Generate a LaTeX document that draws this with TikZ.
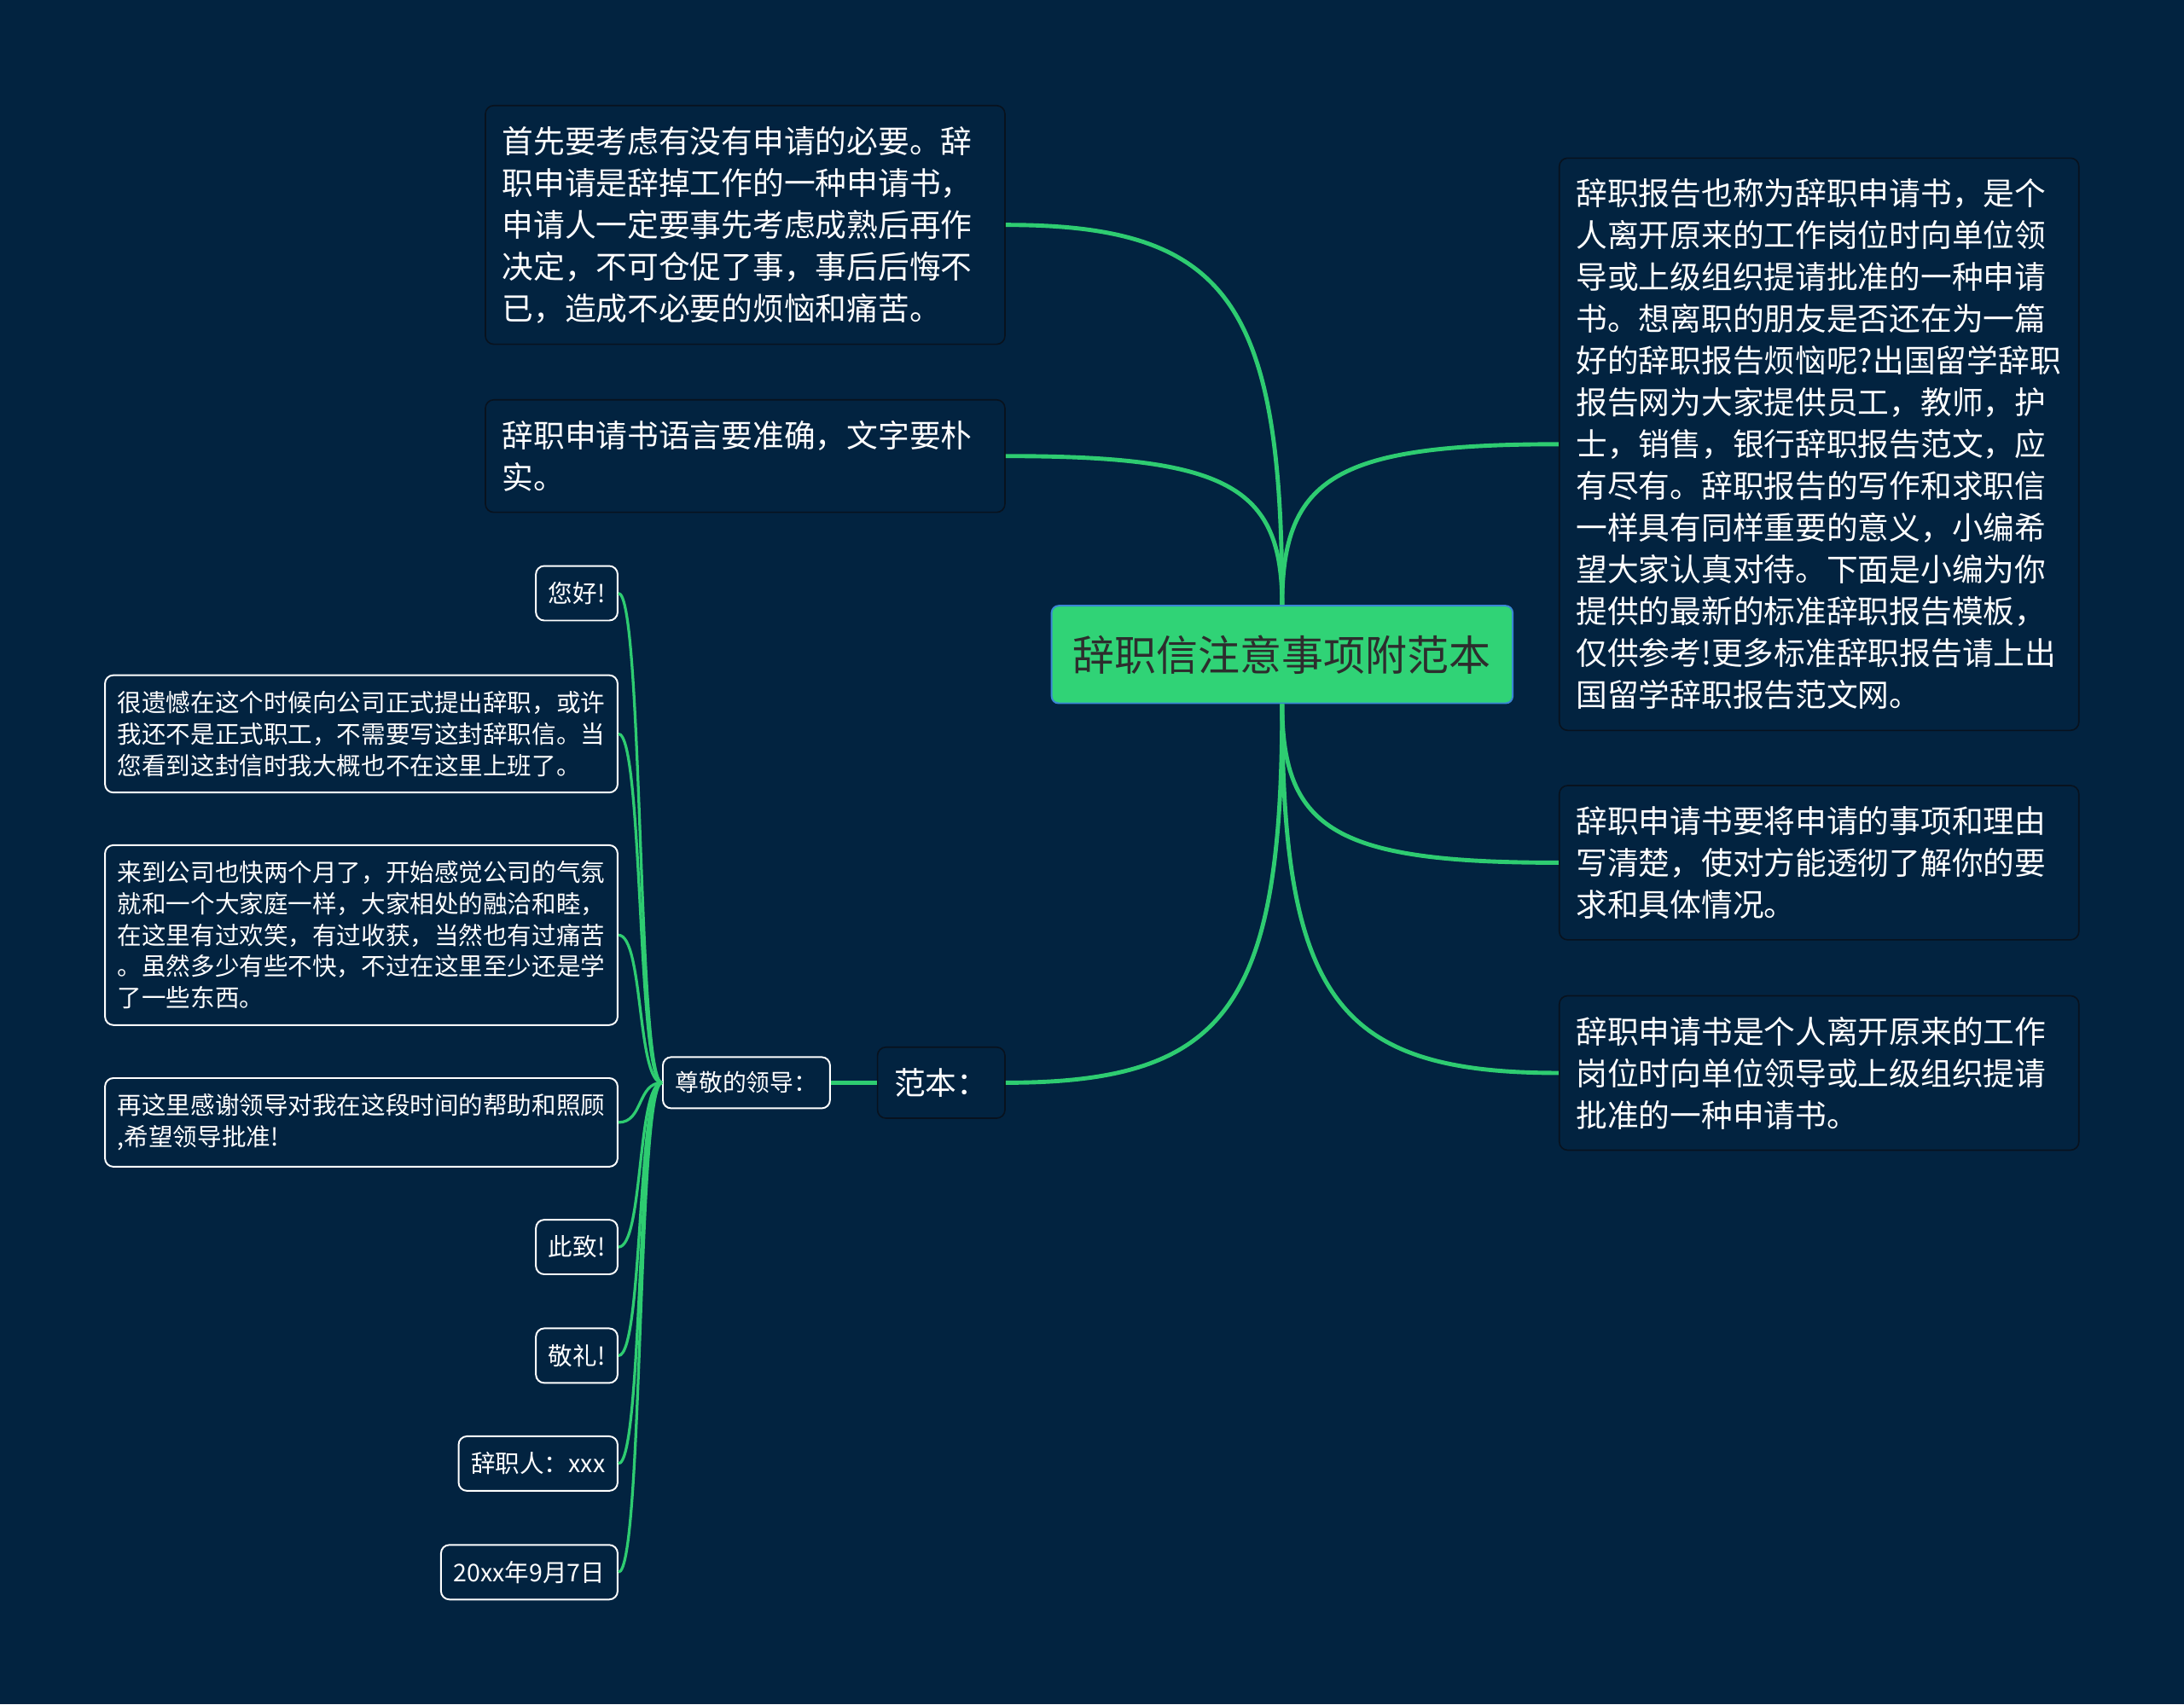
\documentclass[tikz,border=0pt]{standalone}
\usepackage{fontspec}
\setmainfont{Noto Sans CJK SC}
\usepackage{xcolor}
\usepackage{tikz}
\usetikzlibrary{positioning, calc}

\definecolor{bgnavy}{HTML}{022340}
\definecolor{linkgreen}{HTML}{2ECC71}
\definecolor{rootgreen}{HTML}{30D376}
\definecolor{rootblue}{HTML}{3A86D4}
\definecolor{topicline}{HTML}{08121E}
\definecolor{roottext}{HTML}{2D2D2D}

\begin{document}
\begin{tikzpicture}[x=1pt, y=-1pt,
  root/.style={draw=rootblue, line width=1.2pt, fill=rootgreen, rounded corners=5pt, text=roottext, minimum width=331pt, minimum height=70pt, font=\fontsize{30}{36}\selectfont},
  topic/.style={draw=topicline, line width=1pt, fill=bgnavy, rounded corners=6pt, text=white, align=left, inner xsep=12pt, inner ysep=15pt, font=\fontsize{22.5}{30}\selectfont},
  note/.style={topic, text width=349pt},
  leaf/.style={draw=white, line width=1.2pt, fill=bgnavy, rounded corners=6pt, text=white, align=left, inner xsep=9pt, inner ysep=11.5pt, font=\fontsize{17.5}{22.5}\selectfont},
  branch/.style={draw=linkgreen, line width=3pt},
  twig/.style={draw=linkgreen, line width=2pt},
  elbow/.style={to path={.. controls ($(\tikztostart)!0.8!(\tikztostart |- \tikztotarget)$) and ($(\tikztotarget)!0.8!(\tikztostart |- \tikztotarget)$) .. (\tikztotarget)}}
]
  \useasboundingbox (0,0) rectangle (1568,1224);
  \fill[bgnavy] (0,0) rectangle (1568,1224);

  \node[root] (root) at (920.5,470) {辞职信注意事项附范本};

  % upper left
  \node[note, anchor=east] (shenqing) at (722,161.5) {首先要考虑有没有申请的必要。辞\\职申请是辞掉工作的一种申请书，\\申请人一定要事先考虑成熟后再作\\决定，不可仓促了事，事后后悔不\\已，造成不必要的烦恼和痛苦。};
  \node[note, anchor=east] (yuyan) at (722,327.5) {辞职申请书语言要准确，文字要朴\\实。};

  % right side
  \node[note, anchor=west] (baogao) at (1119,319) {辞职报告也称为辞职申请书，是个\\人离开原来的工作岗位时向单位领\\导或上级组织提请批准的一种申请\\书。想离职的朋友是否还在为一篇\\好的辞职报告烦恼呢?出国留学辞职\\报告网为大家提供员工，教师，护\\士，销售，银行辞职报告范文，应\\有尽有。辞职报告的写作和求职信\\一样具有同样重要的意义，小编希\\望大家认真对待。下面是小编为你\\提供的最新的标准辞职报告模板，\\仅供参考!更多标准辞职报告请上出\\国留学辞职报告范文网。};
  \node[note, anchor=west] (shixiang) at (1119,619.5) {辞职申请书要将申请的事项和理由\\写清楚，使对方能透彻了解你的要\\求和具体情况。};
  \node[note, anchor=west] (dingyi) at (1119,770.5) {辞职申请书是个人离开原来的工作\\岗位时向单位领导或上级组织提请\\批准的一种申请书。};

  % sample letter
  \node[topic, anchor=east, minimum height=51pt] (fanben) at (722,777.5) {范本：};
  \node[leaf, left=33pt of fanben, font=\fontsize{17}{22}\selectfont, inner ysep=10.5pt] (zunjing) {尊敬的领导：};

  \node[leaf, anchor=east] (nihao) at (444,426) {您好!};
  \node[leaf, anchor=east] (yihan) at (444,527) {很遗憾在这个时候向公司正式提出辞职，或许\\我还不是正式职工，不需要写这封辞职信。当\\您看到这封信时我大概也不在这里上班了。};
  \node[leaf, anchor=east] (gongsi) at (444,671.5) {来到公司也快两个月了，开始感觉公司的气氛\\就和一个大家庭一样，大家相处的融洽和睦，\\在这里有过欢笑，有过收获，当然也有过痛苦\\。虽然多少有些不快，不过在这里至少还是学\\了一些东西。};
  \node[leaf, anchor=east] (ganxie) at (444,806) {再这里感谢领导对我在这段时间的帮助和照顾\\,希望领导批准!};
  \node[leaf, anchor=east] (cizhi) at (444,895.5) {此致!};
  \node[leaf, anchor=east] (jingli) at (444,973.5) {敬礼!};
  \node[leaf, anchor=east] (cizhiren) at (444,1051) {辞职人：xxx};
  \node[leaf, anchor=east] (riqi) at (444,1129) {20xx年9月7日};

  \draw[branch] (root.north) to[elbow] (shenqing.east);
  \draw[branch] (root.north) to[elbow] (yuyan.east);
  \draw[branch] (root.north) to[elbow] (baogao.west);
  \draw[branch] (root.south) to[elbow] (shixiang.west);
  \draw[branch] (root.south) to[elbow] (dingyi.west);
  \draw[branch] (root.south) to[elbow] (fanben.east);
  \draw[branch] (fanben) -- (zunjing);

  \draw[twig] (zunjing.west) .. controls +(-18,0) and +(18,0) .. (nihao.east);
  \draw[twig] (zunjing.west) .. controls +(-18,0) and +(18,0) .. (yihan.east);
  \draw[twig] (zunjing.west) .. controls +(-18,0) and +(18,0) .. (gongsi.east);
  \draw[twig] (zunjing.west) .. controls +(-18,0) and +(18,0) .. (ganxie.east);
  \draw[twig] (zunjing.west) .. controls +(-18,0) and +(18,0) .. (cizhi.east);
  \draw[twig] (zunjing.west) .. controls +(-18,0) and +(18,0) .. (jingli.east);
  \draw[twig] (zunjing.west) .. controls +(-18,0) and +(18,0) .. (cizhiren.east);
  \draw[twig] (zunjing.west) .. controls +(-18,0) and +(18,0) .. (riqi.east);
\end{tikzpicture}
\end{document}
